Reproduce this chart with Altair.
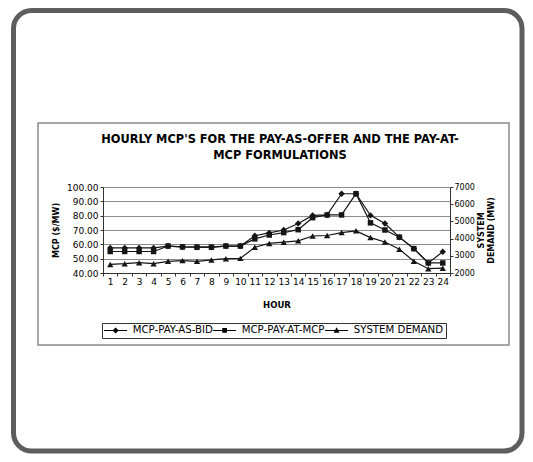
import altair as alt
import pandas as pd

# ---------------- data ----------------
hours = list(range(1, 25))
series_names = ["MCP-PAY-AS-BID", "MCP-PAY-AT-MCP", "SYSTEM DEMAND"]
mcp_pay_as_bid = [57.5, 57.5, 57.5, 57.5, 58.8, 58.2, 58.0, 58.0, 58.8, 58.8,
                  66.0, 68.0, 70.0, 74.5, 80.2, 80.5, 95.3, 95.3, 80.2, 74.5,
                  65.0, 57.0, 47.0, 54.8]
mcp_pay_at_mcp = [55.0, 55.0, 55.0, 55.0, 58.8, 58.2, 58.0, 58.0, 58.8, 58.8,
                  63.8, 66.5, 68.2, 70.2, 78.6, 80.5, 80.5, 95.3, 75.0, 70.0,
                  65.0, 57.0, 47.0, 47.0]
system_demand = [2500, 2540, 2600, 2540, 2680, 2720, 2680, 2760, 2830, 2850,
                 3500, 3720, 3790, 3870, 4150, 4180, 4350, 4450, 4060, 3800,
                 3380, 2680, 2250, 2280]
mcp_ticks = [40, 50, 60, 70, 80, 90, 100]
demand_ticks = [2000, 3000, 4000, 5000, 6000, 7000]
title_lines = ["HOURLY MCP'S FOR THE PAY-AS-OFFER AND THE PAY-AT-", "MCP FORMULATIONS"]

mcp_df = pd.DataFrame({
    "hour": hours * 2,
    "value": mcp_pay_as_bid + mcp_pay_at_mcp,
    "series": [series_names[0]] * 24 + [series_names[1]] * 24,
})
dem_df = pd.DataFrame({"hour": hours, "value": system_demand,
                       "series": [series_names[2]] * 24})
one = pd.DataFrame({"k": [0]})

FONT = "DejaVu Sans"
INK = "#151515"

x_enc = alt.X("hour:O",
              scale=alt.Scale(paddingInner=0, paddingOuter=0),
              axis=alt.Axis(title="HOUR", labelAngle=0, tickBand="extent",
                            tickSize=3, labelPadding=1, labelFontSize=9,
                            titleFontSize=8.5, titleFontWeight="bold",
                            titlePadding=14, grid=False))

left_axis = alt.Axis(title="MCP ($/MW)", values=mcp_ticks, format=".2f",
                     orient="left", tickSize=3, labelPadding=2, labelFontSize=9,
                     titleFontSize=8, titleFontWeight="bold", titlePadding=6,
                     grid=True, gridColor="#8c8c8c", gridWidth=1)
right_axis = alt.Axis(title=["SYSTEM", "DEMAND (MW)"], values=demand_ticks,
                      format="d", orient="right", tickSize=3, labelPadding=1,
                      labelFontSize=8, titleFontSize=8, titleFontWeight="bold",
                      titleAngle=270, titlePadding=1, titleLineHeight=10,
                      grid=False)

y_left = alt.Y("value:Q", scale=alt.Scale(domain=[40, 100], nice=False),
               axis=left_axis)
y_right = alt.Y("value:Q", scale=alt.Scale(domain=[2000, 7000], nice=False),
                axis=right_axis)

# legend symbols: a short line (thin filled bar) with the marker on it
legend_paths = [
    "M-3,-0.14H3V0.14H-3ZM0,-0.8L0.8,0L0,0.8L-0.8,0Z",
    "M-3,-0.14H3V0.14H-3ZM-0.62,-0.62H0.62V0.62H-0.62Z",
    "M-3,-0.14H3V0.14H-3ZM0,-0.82L0.76,0.58H-0.76Z",
]

base_l = alt.Chart(mcp_df)
a_line = base_l.mark_line(color=INK, strokeWidth=1.2).encode(
    x=x_enc, y=y_left, detail="series:N")
a_bid = base_l.mark_point(shape="diamond", filled=True, size=42, color=INK, opacity=1).encode(
    x=x_enc, y=y_left).transform_filter(alt.datum.series == series_names[0])
a_mcp = base_l.mark_point(shape="square", filled=True, size=30, color=INK, opacity=1).encode(
    x=x_enc, y=y_left).transform_filter(alt.datum.series == series_names[1])
a_leg = base_l.mark_point(filled=True, opacity=0, color="black").encode(
    x=x_enc, y=y_left,
    shape=alt.Shape("series:N",
                    scale=alt.Scale(domain=series_names, range=legend_paths),
                    legend=alt.Legend(orient="none", legendX=-1, legendY=136,
                                      direction="horizontal", title=None,
                                      labelFont=FONT, labelFontSize=10.2,
                                      labelColor="black", symbolSize=59,
                                      symbolOffset=6.5, labelOffset=12,
                                      columnPadding=0, padding=2,
                                      strokeColor="#333333",
                                      symbolOpacity=1, symbolFillColor="black",
                                      symbolStrokeWidth=0)))
layer_a = alt.layer(a_line, a_bid, a_mcp, a_leg)

base_r = alt.Chart(dem_df)
b_line = base_r.mark_line(color=INK, strokeWidth=1.2).encode(x=x_enc, y=y_right)
b_pts = base_r.mark_point(shape="triangle-up", filled=True, size=40, color=INK, opacity=1).encode(
    x=x_enc, y=y_right)
layer_b = alt.layer(b_line, b_pts)

# decorations: rounded outer frame, scanned chart box, title
frame = alt.Chart(one).mark_rect(fillOpacity=0, stroke="#5e5e5e", strokeWidth=5,
                                 cornerRadius=18).encode(
    x=alt.value(-89.5), x2=alt.value(419), y=alt.value(-176.5), y2=alt.value(264))
box = alt.Chart(one).mark_rect(fillOpacity=0, stroke="#8a8a8a", strokeWidth=1.5).encode(
    x=alt.value(-65), x2=alt.value(406), y=alt.value(-64), y2=alt.value(158))
title = alt.Chart(one).mark_text(font=FONT, fontSize=11.4, fontWeight="bold",
                                 align="center", baseline="alphabetic",
                                 lineHeight=16, color="black").encode(
    x=alt.value(177), y=alt.value(-44.5), text=alt.value(title_lines))

chart = alt.layer(frame, box, title, layer_a, layer_b).resolve_scale(
    y="independent"
).properties(
    width=347, height=86,
    autosize=alt.AutoSizeParams(type="none"),
    padding={"left": 95, "top": 179, "right": 75, "bottom": 181},
    background="white",
).configure_view(stroke=None).configure_axis(
    labelFont=FONT, titleFont=FONT, labelColor="black", titleColor="black",
    domainColor="#333333", tickColor="#333333"
)

chart.save("out.html", embed_options={"renderer": "svg", "actions": False})
